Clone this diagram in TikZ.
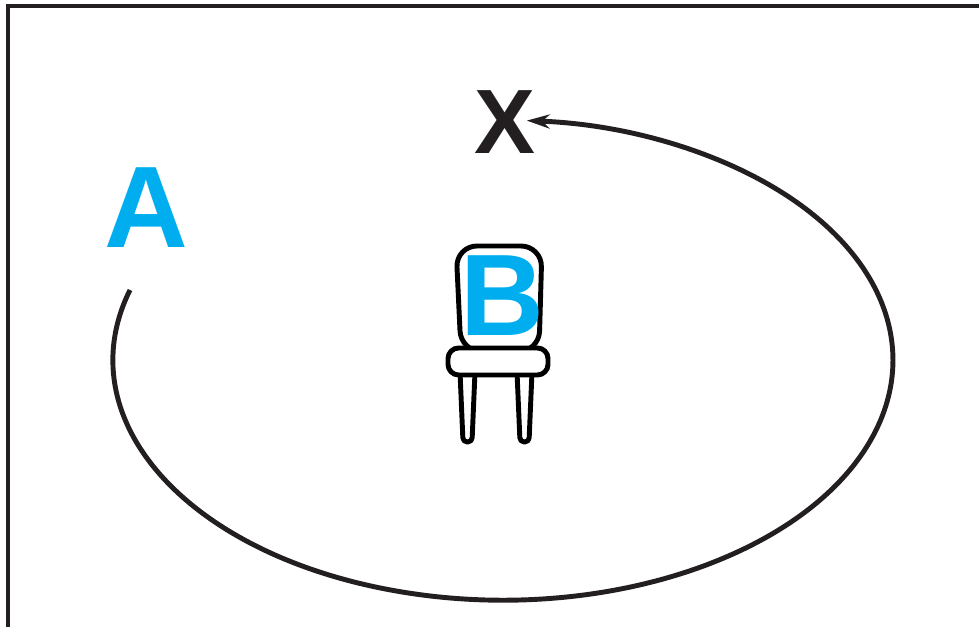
\documentclass[tikz,border=0pt]{standalone}
\usepackage{fontspec}
\setmainfont{Liberation Sans}
\usetikzlibrary{arrows.meta}
\definecolor{cyanB}{RGB}{0,174,239}
\definecolor{ink}{RGB}{35,31,32}
\tikzset{
  letter/.style={inner sep=0pt, text=cyanB, font=\fontsize{33}{33}\selectfont\bfseries},
  chairline/.style={line width=1.4pt, draw=black, fill=white, line join=round}
}

\begin{document}
\begin{tikzpicture}
			%%%%% START %%%%%
			\useasboundingbox (0, 0) rectangle (9.79, 6.27);
			
			\draw[line width=1.4pt, color=ink] (0.08, 0) -- (0.08, 6.21) -- (9.79, 6.21);
			
			% chair
			\draw[chairline, rounded corners=6pt] (4.61, 2.75) -- (4.56, 3.81) -- (5.42, 3.81) -- (5.39, 2.75) -- cycle;
			\draw[chairline, rounded corners=1.2pt] (4.60, 2.55) -- (4.63, 1.85) -- (4.72, 1.85) -- (4.75, 2.55) -- cycle;
			\draw[chairline, rounded corners=1.2pt] (5.17, 2.55) -- (5.20, 1.85) -- (5.29, 1.85) -- (5.32, 2.55) -- cycle;
			\draw[chairline, rounded corners=3pt] (4.48, 2.52) -- (4.48, 2.79) -- (5.48, 2.79) -- (5.48, 2.52) -- cycle;
			
			\node[letter] (B) at (5.02, 3.315) {B};
			\node[letter] (A) at (1.46, 4.19) {A};
			\node[inner sep=0pt, text=ink, font=\fontsize{26}{26}\selectfont\bfseries] (X) at (5.05, 5.05) {X};
			
			\coordinate (start) at (1.30, 3.37);
			\draw[line width=1.4pt, color=ink, -{Stealth[length=6.5pt, width=4pt]}]
			  (start) arc[start angle=163, end angle=446.5, x radius=3.9, y radius=2.4];
			
			%%%%% END %%%%%
\end{tikzpicture}
\end{document}
